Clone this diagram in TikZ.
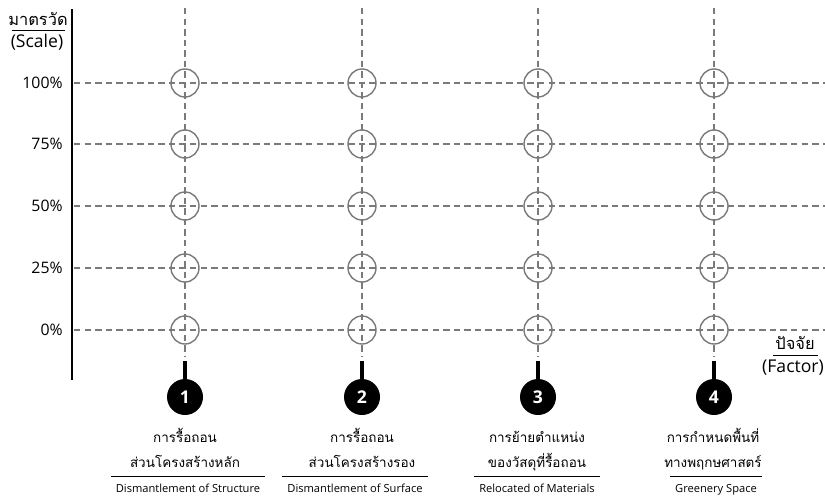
\documentclass[tikz,border=0pt]{standalone}
\usepackage{fontspec}
\setmainfont{Open Sans}
\newfontfamily\thaifont[Script=Thai]{Loma}
\usepackage{xcolor}
\usetikzlibrary{positioning}
\definecolor{gridgray}{HTML}{7A7A7A}

\begin{document}
\begin{tikzpicture}[x=0.03cm, y=-0.03cm,
    every node/.style={inner sep=1pt},
    gridline/.style={draw=gridgray, line width=1.3pt, dash pattern=on 5.5pt off 3.5pt},
    ring/.style={circle, draw=gridgray, line width=1.2pt, minimum size=0.84cm, inner sep=0pt},
    badge/.style={circle, fill=black, text=white, minimum size=1.08cm, inner sep=0pt,
      font=\fontsize{15}{15}\selectfont\bfseries},
    pct/.style={anchor=east, font=\fontsize{13.5}{15}\selectfont},
    axisen/.style={anchor=base, font=\fontsize{15}{16}\selectfont},
    axisth/.style={anchor=base, font=\thaifont\fontsize{14}{16}\selectfont},
    thtext/.style={anchor=base, font=\thaifont\fontsize{11.5}{14}\selectfont},
    entext/.style={anchor=base, font=\fontsize{9.5}{10}\selectfont, inner xsep=4pt}]
  \useasboundingbox (0,0) rectangle (825,497);

  % axis titles
  \node[axisth] (scaleth) at (38,25) {มาตรวัด};
  \node[axisen] (scaleen) at (37,47) {(Scale)};
  \draw[line width=0.7pt] (12,30) -- (65,30);
  \node[axisth] (factorth) at (795,349) {ปัจจัย};
  \node[axisen] (factoren) at (793,372) {(Factor)};
  \draw[line width=0.7pt] (773,355) -- (818,355);

  % scale rows
  \foreach \p/\y in {100/83, 75/144, 50/206, 25/268, 0/330} {
    \node[pct] (row-\p) at (64,\y) {\p\%};
    \coordinate (end-\p) at (825,\y);
    \draw[gridline] (74,\y) -- (end-\p);
  }

  % vertical axis
  \coordinate (axistop) at (72,9);
  \coordinate (axisbot) at (72,380);
  \draw[line width=2.5pt] (axistop) -- (axisbot);

  % factor columns
  \foreach \i/\x in {1/185, 2/362, 3/538, 4/714} {
    \coordinate (top-\i) at (\x,8);
    \coordinate (bot-\i) at (\x,357);
    \draw[gridline] (top-\i) -- (bot-\i);
    \foreach \p/\y in {100/83, 75/144, 50/206, 25/268, 0/330}
      \node[ring] (c-\i-\p) at (\x,\y) {};
    \node[badge] (n-\i) at (\x,397) {\i};
    \coordinate (stem-\i) at (\x,361);
    \draw[line width=4.2pt] (stem-\i) -- (n-\i.north);
  }

  % factor names
  \foreach \i/\x/\lineA/\lineB in {1/185/การรื้อถอน/ส่วนโครงสร้างหลัก,
      2/362/การรื้อถอน/ส่วนโครงสร้างรอง,
      3/537/การย้ายตำแหน่ง/ของวัสดุที่รื้อถอน,
      4/713/การกำหนดพื้นที่/ทางพฤกษศาสตร์} {
    \node[thtext] (th-\i-a) at (\x,442) {\lineA};
    \node[thtext] (th-\i-b) at (\x,467) {\lineB};
  }
  \node[entext] (en-1) at (188,492) {Dismantlement of Structure};
  \node[entext] (en-2) at (355,492) {Dismantlement of Surface};
  \node[entext] (en-3) at (537,492) {Relocated of Materials};
  \node[entext] (en-4) at (716,492) {Greenery Space};
  \foreach \i in {1,...,4}
    \draw[line width=0.7pt] ([yshift=5pt]en-\i.north west) -- ([yshift=5pt]en-\i.north east);
\end{tikzpicture}
\end{document}
